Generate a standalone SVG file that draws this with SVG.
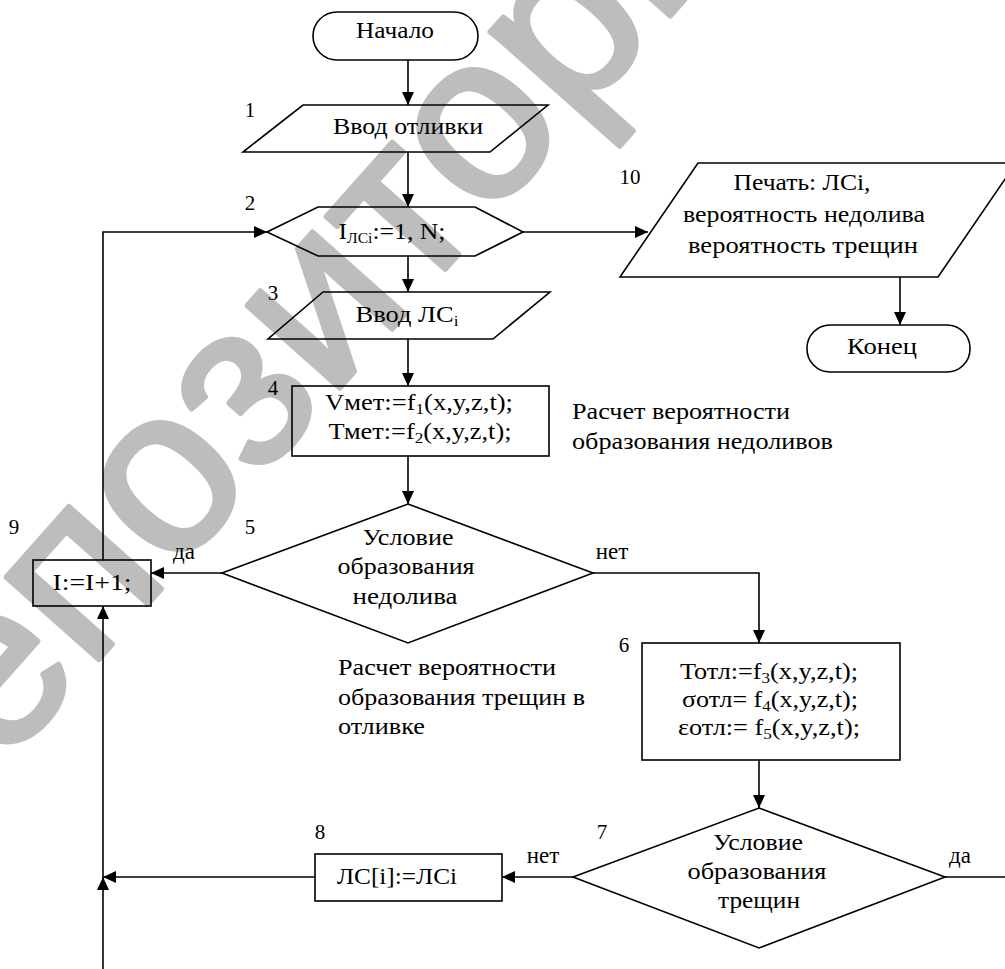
<svg xmlns="http://www.w3.org/2000/svg" width="1005" height="969" viewBox="0 0 1005 969">
<style>
.s{fill:none;stroke:#000;stroke-width:1.6}
.t{font-family:"Liberation Serif","Times New Roman",serif;font-size:23px;fill:#000;text-anchor:middle}
.l{font-family:"Liberation Serif","Times New Roman",serif;font-size:23px;fill:#000;text-anchor:start}
.n{font-family:"Liberation Serif","Times New Roman",serif;font-size:21px;fill:#000;text-anchor:middle}
.c{fill:none;stroke:#000;stroke-width:1.6}
.wm{font-family:"Liberation Sans",Arial,sans-serif;font-weight:normal;font-size:235px;fill:#bdbdbd;stroke:#bdbdbd;stroke-width:5;stroke-linejoin:round}
</style>
<defs>
<marker id="a" markerUnits="userSpaceOnUse" markerWidth="13" markerHeight="12" refX="13" refY="6" orient="auto"><path d="M0,0 L13,6 L0,12 z" fill="#000"/></marker>
</defs>
<rect width="1005" height="969" fill="#fff"/>
<g id="watermark">
<text class="wm" transform="translate(-96,879) rotate(-48.4)">Репозиторий</text>
</g>
<g id="connectors">
<line class="c" x1="408" y1="60" x2="408" y2="105" marker-end="url(#a)"/>
<line class="c" x1="408" y1="152" x2="408" y2="207" marker-end="url(#a)"/>
<line class="c" x1="408" y1="256" x2="408" y2="292" marker-end="url(#a)"/>
<line class="c" x1="408" y1="339" x2="408" y2="386" marker-end="url(#a)"/>
<line class="c" x1="408" y1="456" x2="408" y2="504" marker-end="url(#a)"/>
<line class="c" x1="222" y1="573" x2="151" y2="573" marker-end="url(#a)"/>
<polyline class="c" points="593,573 759,573 759,643" marker-end="url(#a)"/>
<line class="c" x1="759" y1="760" x2="759" y2="808" marker-end="url(#a)"/>
<line class="c" x1="573" y1="877" x2="502" y2="877" marker-end="url(#a)"/>
<line class="c" x1="315" y1="877" x2="103" y2="877" marker-end="url(#a)"/>
<line class="c" x1="945" y1="877" x2="1005" y2="877"/>
<line class="c" x1="103" y1="969" x2="103" y2="877" marker-end="url(#a)"/>
<line class="c" x1="103" y1="877" x2="103" y2="606" marker-end="url(#a)"/>
<polyline class="c" points="103,560 103,232 267,232" marker-end="url(#a)"/>
<line class="c" x1="523" y1="232" x2="648" y2="232" marker-end="url(#a)"/>
<line class="c" x1="900" y1="277" x2="900" y2="325" marker-end="url(#a)"/>
</g>
<g id="start">
<rect class="s" x="313" y="12" width="165" height="48" rx="24"/>
<text class="t" x="395" y="38" textLength="78" lengthAdjust="spacingAndGlyphs">Начало</text>
</g>
<g id="n1">
<polygon class="s" points="303,105 548,105 490,152 243,152"/>
<text class="n" x="250" y="117">1</text>
<text class="t" x="408" y="134" textLength="150" lengthAdjust="spacingAndGlyphs">Ввод отливки</text>
</g>
<g id="n2">
<polygon class="s" points="267,232 318,207 475,207 523,232 475,256 318,256"/>
<text class="n" x="250" y="210">2</text>
<text class="t" x="392" y="239" textLength="107" lengthAdjust="spacingAndGlyphs">I<tspan font-size="14" dy="4">ЛСi</tspan><tspan dy="-4">:=1, N;</tspan></text>
</g>
<g id="n3">
<polygon class="s" points="323,292 550,292 493,339 268,339"/>
<text class="n" x="273" y="300">3</text>
<text class="t" x="407" y="322" textLength="103" lengthAdjust="spacingAndGlyphs">Ввод ЛС<tspan font-size="15" dy="4">i</tspan></text>
</g>
<g id="n4">
<rect class="s" x="292" y="386" width="257" height="70"/>
<text class="n" x="273" y="395">4</text>
<text class="t" x="419" y="410" textLength="188" lengthAdjust="spacingAndGlyphs">Vмет:=f<tspan font-size="15" dy="4">1</tspan><tspan dy="-4">(x,y,z,t);</tspan></text>
<text class="t" x="420" y="439" textLength="183" lengthAdjust="spacingAndGlyphs">Тмет:=f<tspan font-size="15" dy="4">2</tspan><tspan dy="-4">(x,y,z,t);</tspan></text>
</g>
<g id="note1">
<text class="l" x="572" y="419" textLength="218" lengthAdjust="spacingAndGlyphs">Расчет вероятности</text>
<text class="l" x="572" y="449" textLength="261" lengthAdjust="spacingAndGlyphs">образования недоливов</text>
</g>
<g id="n5">
<polygon class="s" points="408,504 593,573 408,643 222,573"/>
<text class="n" x="250" y="534">5</text>
<text class="t" x="408" y="545" textLength="91" lengthAdjust="spacingAndGlyphs">Условие</text>
<text class="t" x="406" y="574" textLength="137" lengthAdjust="spacingAndGlyphs">образования</text>
<text class="t" x="405" y="604" textLength="105" lengthAdjust="spacingAndGlyphs">недолива</text>
<text class="t" x="184" y="559">да</text>
<text class="t" x="612" y="559">нет</text>
</g>
<g id="n9">
<rect class="s" x="33" y="560" width="118" height="46"/>
<text class="n" x="14" y="534">9</text>
<text class="t" x="92" y="590" textLength="79" lengthAdjust="spacingAndGlyphs">I:=I+1;</text>
</g>
<g id="note2">
<text class="l" x="338" y="675" textLength="218" lengthAdjust="spacingAndGlyphs">Расчет вероятности</text>
<text class="l" x="338" y="705" textLength="247" lengthAdjust="spacingAndGlyphs">образования трещин в</text>
<text class="l" x="338" y="734" textLength="87" lengthAdjust="spacingAndGlyphs">отливке</text>
</g>
<g id="n6">
<rect class="s" x="642" y="643" width="258" height="117"/>
<text class="n" x="624" y="652">6</text>
<text class="t" x="769" y="679" textLength="178" lengthAdjust="spacingAndGlyphs">Тотл:=f<tspan font-size="15" dy="4">3</tspan><tspan dy="-4">(x,y,z,t);</tspan></text>
<text class="t" x="770" y="707" textLength="176" lengthAdjust="spacingAndGlyphs">σотл= f<tspan font-size="15" dy="4">4</tspan><tspan dy="-4">(x,y,z,t);</tspan></text>
<text class="t" x="769" y="735" textLength="182" lengthAdjust="spacingAndGlyphs">εотл:= f<tspan font-size="15" dy="4">5</tspan><tspan dy="-4">(x,y,z,t);</tspan></text>
</g>
<g id="n7">
<polygon class="s" points="759,808 945,877 759,948 573,877"/>
<text class="n" x="602" y="839">7</text>
<text class="t" x="758" y="850" textLength="90" lengthAdjust="spacingAndGlyphs">Условие</text>
<text class="t" x="757" y="879" textLength="139" lengthAdjust="spacingAndGlyphs">образования</text>
<text class="t" x="759" y="908" textLength="82" lengthAdjust="spacingAndGlyphs">трещин</text>
<text class="t" x="960" y="863">да</text>
<text class="t" x="543" y="863">нет</text>
</g>
<g id="n8">
<rect class="s" x="315" y="854" width="187" height="47"/>
<text class="n" x="320" y="839">8</text>
<text class="l" x="337" y="884" textLength="120" lengthAdjust="spacingAndGlyphs">ЛС[i]:=ЛСi</text>
</g>
<g id="n10">
<polygon class="s" points="698,163 1016,163 938,277 620,277"/>
<text class="n" x="630" y="184">10</text>
<text class="t" x="802" y="190" textLength="137" lengthAdjust="spacingAndGlyphs">Печать: ЛСi,</text>
<text class="t" x="804" y="222" textLength="242" lengthAdjust="spacingAndGlyphs">вероятность недолива</text>
<text class="t" x="803" y="253" textLength="230" lengthAdjust="spacingAndGlyphs">вероятность трещин</text>
</g>
<g id="end">
<rect class="s" x="807" y="325" width="163" height="47" rx="23"/>
<text class="t" x="882" y="354" textLength="70" lengthAdjust="spacingAndGlyphs">Конец</text>
</g>
</svg>
